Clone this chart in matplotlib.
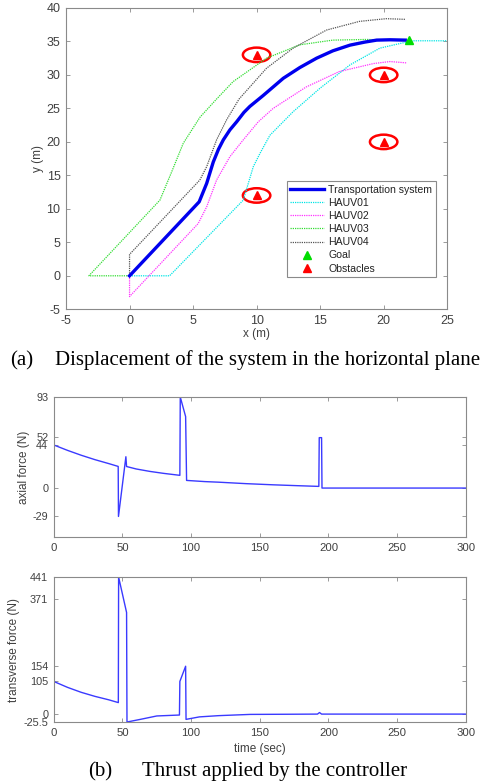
import matplotlib.pyplot as plt
from matplotlib.patches import Circle
from matplotlib.lines import Line2D

# ---- 数据：水平面轨迹 ----
sys_x = [0, 5.48, 6.07, 6.59, 7.0, 7.38, 7.9, 8.43, 9.0, 9.47, 10.5, 12.1, 13.4, 14.72, 16, 17.35, 18.5, 19.45, 20.5, 21.7]
sys_y = [0, 11.05, 13.8, 17.0, 18.9, 20.3, 21.8, 23.0, 24.4, 25.3, 26.9, 29.5, 31.1, 32.5, 33.6, 34.45, 34.9, 35.2, 35.25, 35.2]

h1_x = [0, 3.15, 8.95, 9.74, 10.27, 11.05, 12.87, 14.98, 17.35, 19.7, 21.3, 22.3, 25]
h1_y = [0, 0, 11.3, 16.3, 18.3, 21.0, 24.5, 28.0, 31.5, 34.0, 34.7, 35.1, 35.1]

h2_x = [0, 0, 5.4, 6.07, 6.85, 7.9, 8.95, 10.13, 11.3, 13.9, 16.5, 19.2, 20.5, 21.8]
h2_y = [0, -3.1, 7.8, 10.3, 14.3, 17.8, 20.3, 23.0, 25.0, 28.2, 30.5, 31.7, 32.0, 31.8]

h3_x = [0, -3.2, 2.39, 3.31, 4.23, 5.55, 6.85, 8.15, 10.78, 13.4, 16.0, 18.65, 20.5, 22]
h3_y = [0, 0, 11.3, 15.5, 19.8, 23.7, 26.4, 29.0, 32.5, 34.5, 35.2, 35.3, 35.2, 35.1]

h4_x = [0, 0, 5.53, 6.07, 6.85, 7.64, 8.62, 10.78, 12.87, 15.5, 18.1, 20.2, 21.75]
h4_y = [0, 3.2, 14.3, 16.3, 20.3, 23.3, 26.4, 31.0, 34.0, 36.7, 38.0, 38.4, 38.3]

goal = (22, 35.2)
obs_x = [10, 20, 20, 10]
obs_y = [33, 30, 20, 12]
obs_r = 1.08

# ---- 数据：推力 ----
ax_t = [0, 10, 20, 30, 40, 46.9, 47.1, 52.5, 53, 60, 70, 80, 91.8, 92.1, 96, 96.7, 110, 120, 140, 160, 180, 193, 193.3, 195, 195.3, 300]
ax_f = [44, 38.5, 33.5, 29, 25, 22.1, -29, 32, 22, 19.5, 17, 15, 13, 93, 73, 7.8, 6.6, 6, 4.5, 3.3, 2.3, 1.7, 51.5, 51.5, 0, 0]

tr_t = [0, 10, 20, 30, 40, 47, 47.2, 53, 53.3, 63, 75, 91.5, 91.8, 96, 96.3, 106, 120, 143, 170, 192, 193.5, 195, 300]
tr_f = [105, 86, 70, 57, 46, 37, 441, 327, -25.5, -17, -6, -3, 105, 154, -17, -9, -5, -1, -0.5, 0, 5, 0, 0]

plt.rcParams['font.family'] = ['Liberation Sans', 'DejaVu Sans']
plt.rcParams['axes.unicode_minus'] = False
grey = '#404040'
edge = '#8a8a8a'

fig = plt.figure(figsize=(4.89, 7.82), dpi=100)


def style(ax, xsize, ysize):
    for s in ax.spines.values():
        s.set_color(edge)
        s.set_linewidth(0.8)
    ax.tick_params(direction='in', top=True, right=True, length=3, pad=4,
                   colors=edge, labelcolor=grey, width=0.6)
    ax.tick_params(axis='x', labelsize=xsize)
    ax.tick_params(axis='y', labelsize=ysize)


def caption(tag, x_tag, text, x_text, y_px):
    y = 1 - y_px / 782
    fig.text(x_tag / 489, y, tag, ha='left', va='baseline', fontsize=15, family='Liberation Serif')
    fig.text(x_text / 489, y, text, ha='left', va='baseline', fontsize=15, family='Liberation Serif')


# (a) 轨迹图
ax1 = fig.add_axes([0.135, 0.6045, 0.7795, 0.3853])
dots = (0, (1, 0.8))
ax1.plot(h1_x, h1_y, ls=dots, color='#00e5e5', lw=0.9)
ax1.plot(h2_x, h2_y, ls=dots, color='#ff33ff', lw=0.9)
ax1.plot(h3_x, h3_y, ls=dots, color='#33dd33', lw=0.9)
ax1.plot(h4_x, h4_y, ls=dots, color='#555555', lw=0.9)
ax1.plot(sys_x, sys_y, '-', color='#0000ee', lw=2.4)
ax1.plot([goal[0]], [goal[1]], '^', color='#00dd00', ms=6)
ax1.plot(obs_x, obs_y, '^', color='#ff0000', ms=5.5, ls='none')
for ox, oy in zip(obs_x, obs_y):
    ax1.add_patch(Circle((ox, oy), obs_r, fill=False, ec='#ff0000', lw=1.8))
ax1.set_xlim(-5, 25)
ax1.set_ylim(-5, 40)
ax1.set_xticks(range(-5, 26, 5))
ax1.set_yticks(range(-5, 41, 5))
ax1.set_xlabel('x (m)', fontsize=8.5, color=grey)
ax1.set_ylabel('y (m)', fontsize=8.5, color=grey)
ax1.xaxis.set_label_coords(0.5, -0.062)
ax1.yaxis.set_label_coords(-0.058, 0.5)
style(ax1, 9, 9)

handles = [
    Line2D([], [], color='#0000ee', lw=2.4),
    Line2D([], [], color='#00e5e5', lw=0.9, ls=dots),
    Line2D([], [], color='#ff33ff', lw=0.9, ls=dots),
    Line2D([], [], color='#33dd33', lw=0.9, ls=dots),
    Line2D([], [], color='#555555', lw=0.9, ls=dots),
    Line2D([], [], color='#00dd00', marker='^', ls='none', ms=6),
    Line2D([], [], color='#ff0000', marker='^', ls='none', ms=6),
]
labels = ['Transportation system', 'HAUV01', 'HAUV02', 'HAUV03', 'HAUV04', 'Goal', 'Obstacles']
leg = ax1.legend(handles, labels, loc='lower right', bbox_to_anchor=(0.971, 0.106),
                 borderaxespad=0, fontsize=7.6, fancybox=False, handlelength=3.2,
                 labelspacing=0.3, borderpad=0.35, handletextpad=0.4, framealpha=1)
leg.get_frame().set_edgecolor(edge)
leg.get_frame().set_linewidth(0.8)
for t in leg.get_texts():
    t.set_color('#222222')

caption('(a)', 10, 'Displacement of the system in the horizontal plane', 55, 365)

# (b) 推力
ax2 = fig.add_axes([0.110, 0.3133, 0.8425, 0.179])
ax2.plot(ax_t, ax_f, color='#3a3aff', lw=1.0)
ax2.set_xlim(0, 300)
ax2.set_ylim(-50, 93)
ax2.set_xticks(range(0, 301, 50))
ax2.set_yticks([-29, 0, 44, 52, 93])
ax2.set_ylabel('axial force (N)', fontsize=8.5, color=grey)
ax2.yaxis.set_label_coords(-0.058, 0.5)
style(ax2, 8.2, 7.8)

ax3 = fig.add_axes([0.110, 0.0767, 0.8425, 0.1854])
ax3.plot(tr_t, tr_f, color='#3a3aff', lw=1.0)
ax3.set_xlim(0, 300)
ax3.set_ylim(-25.5, 441)
ax3.set_xticks(range(0, 301, 50))
ax3.set_yticks([-25.5, 0, 105, 154, 371, 441])
ax3.set_yticklabels(['-25.5', '0', '105', '154', '371', '441'])
ax3.set_xlabel('time (sec)', fontsize=8.5, color=grey)
ax3.xaxis.set_label_coords(0.5, -0.145)
ax3.set_ylabel('transverse force (N)', fontsize=8.5, color=grey)
ax3.yaxis.set_label_coords(-0.0825, 0.5)
style(ax3, 8.2, 7.8)

caption('(b)', 88, 'Thrust applied by the controller', 142, 776)

fig.savefig('out.png', dpi=100)
